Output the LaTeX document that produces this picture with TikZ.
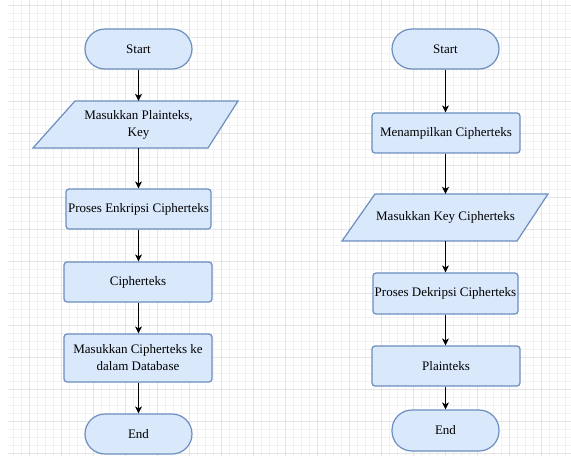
\documentclass[tikz,border=0pt]{standalone}
\usepackage{fontspec}
\setmainfont{Liberation Serif}
\usetikzlibrary{arrows.meta}
\definecolor{boxfill}{HTML}{DAE8FC}
\definecolor{boxline}{HTML}{6C8EBF}
\definecolor{gridminor}{HTML}{F2F2F2}
\definecolor{gridmajor}{HTML}{E4E4E4}
\begin{document}
\begin{tikzpicture}[x=1pt,y=-1pt,
  every node/.style={font=\fontsize{13}{17}\selectfont, text=black, align=center, inner sep=0pt},
  terminal/.style={draw=boxline, fill=boxfill, line width=1.2pt, rounded corners=20pt, minimum width=107pt, minimum height=40pt},
  procbox/.style={draw=boxline, fill=boxfill, line width=1.2pt, rounded corners=3pt, minimum height=40pt},
  paratext/.style={minimum height=47pt, minimum width=100pt},
  parashape/.style={draw=boxline, fill=boxfill, line width=1.2pt, line join=miter},
  flow/.style={draw=black, line width=1pt, -{Stealth[length=7pt,width=7pt,inset=2pt]}}
]
\useasboundingbox (0,0) rectangle (571,456);
\fill[white] (0,0) rectangle (571,456);
% grid
\foreach \gx in {13,21,...,565} \draw[gridminor, line width=0.8pt] (\gx,0) -- (\gx,456);
\foreach \gy in {5,13,...,453} \draw[gridminor, line width=0.8pt] (8,\gy) -- (571,\gy);
\foreach \gx in {29,61,...,541} \draw[gridmajor, line width=0.8pt] (\gx,0) -- (\gx,456);
\foreach \gy in {5,37,...,453} \draw[gridmajor, line width=0.8pt] (8,\gy) -- (571,\gy);

% left flow
\node[terminal] (s1) at (138.5,49) {Start};
\draw[parashape] (75,101) -- (238,101) -- (208,148) -- (33,148) -- cycle;
\node[paratext] (in1) at (138.5,124.5) {Masukkan Plainteks,\\Key};
\node[procbox, minimum width=145pt] (p1) at (138.5,209) {Proses Enkripsi Cipherteks};
\node[procbox, minimum width=148pt] (c1) at (138,282) {Cipherteks};
\node[procbox, minimum width=148pt, minimum height=48pt] (db) at (138,358) {Masukkan Cipherteks ke\\dalam Database};
\node[terminal] (e1) at (138.5,434) {End};

% right flow
\node[terminal] (s2) at (445.5,49) {Start};
\node[procbox, minimum width=148pt] (m2) at (446,133) {Menampilkan Cipherteks};
\draw[parashape] (375,194) -- (548,194) -- (517,241) -- (342,241) -- cycle;
\node[paratext] (in2) at (445.5,217.5) {Masukkan Key Cipherteks};
\node[procbox, minimum width=145pt, minimum height=41pt] (p2) at (445.5,293.5) {Proses Dekripsi Cipherteks};
\node[procbox, minimum width=148pt] (pl) at (446,366) {Plainteks};
\node[terminal, minimum height=41pt] (e2) at (445.5,430.5) {End};

% connectors
\draw[flow] (s1.south) -- (in1.north);
\draw[flow] (in1.south) -- (p1.north);
\draw[flow] (p1.south) -- (c1.north -| p1.south);
\draw[flow] (c1.south -| p1.south) -- (db.north -| p1.south);
\draw[flow] (db.south -| p1.south) -- (e1.north);
\draw[flow] (s2.south) -- (m2.north -| s2.south);
\draw[flow] (m2.south -| s2.south) -- (in2.north);
\draw[flow] (in2.south) -- (p2.north);
\draw[flow] (p2.south) -- (pl.north -| p2.south);
\draw[flow] (pl.south -| p2.south) -- (e2.north);
\end{tikzpicture}
\end{document}
